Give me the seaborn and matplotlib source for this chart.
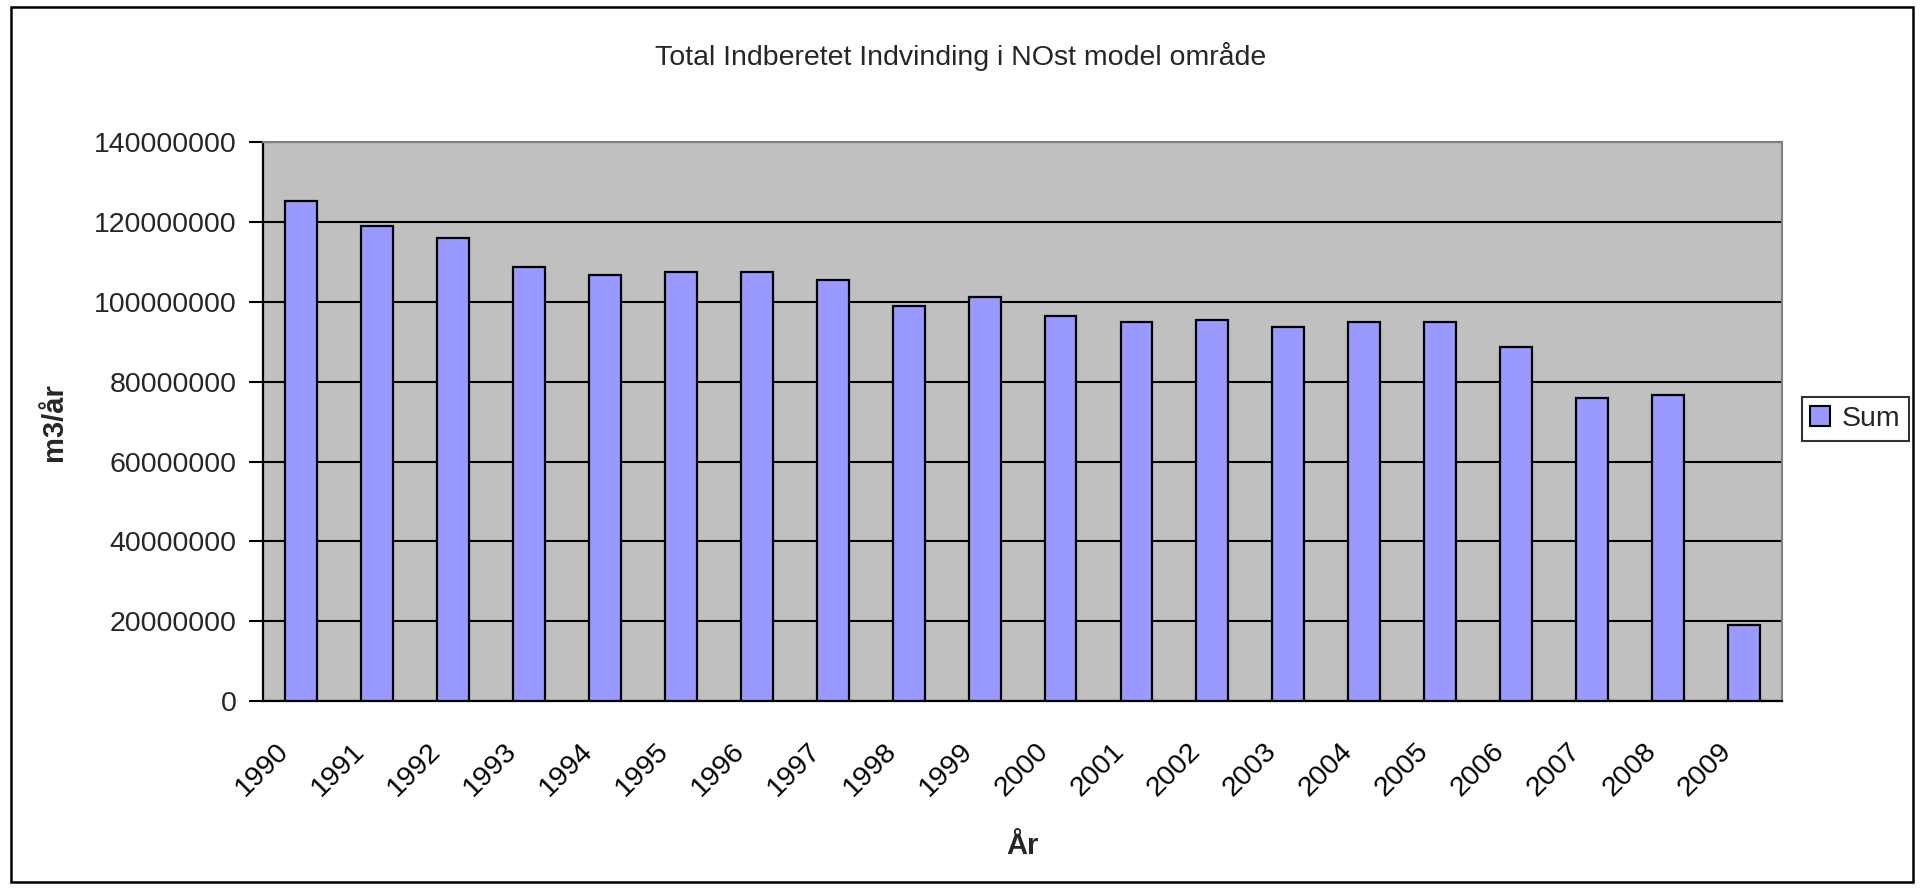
import matplotlib
matplotlib.use("Agg")
import matplotlib.pyplot as plt
from matplotlib.patches import Patch, Rectangle
from matplotlib.ticker import FixedLocator, FuncFormatter
from matplotlib.transforms import ScaledTranslation
import seaborn as sns
import pandas as pd

years = [str(y) for y in range(1990, 2010)]
values = [125.3e6, 119.0e6, 116.1e6, 108.7e6, 106.8e6, 107.5e6, 107.5e6, 105.6e6,
          98.9e6, 101.3e6, 96.4e6, 94.9e6, 95.5e6, 93.6e6, 94.9e6, 94.9e6,
          88.6e6, 76.0e6, 76.6e6, 19.1e6]
y_ticks = [0, 20000000, 40000000, 60000000, 80000000, 100000000, 120000000, 140000000]

title = "Total Indberetet Indvinding i NOst model område"
series_name = "Sum"

sns.set_theme(style="white")
plt.rcParams['font.family'] = ['Liberation Sans', 'DejaVu Sans']

df = pd.DataFrame({"År": years, "m3/år": values})

fig = plt.figure(figsize=(19.21, 8.89), dpi=100)
ax = fig.add_axes([0.137, 0.2115, 0.7906, 0.6285])
ax.set_facecolor("#C0C0C0")

sns.barplot(data=df, x="År", y="m3/år", ax=ax, color="#9999FF", saturation=1,
            width=0.42, edgecolor="black", linewidth=1.6, zorder=3)

ax.set_xlim(-0.5, len(years) - 0.5)
ax.set_ylim(0, 140000000)
ax.yaxis.set_major_locator(FixedLocator(y_ticks))
ax.yaxis.set_major_formatter(FuncFormatter(lambda v, p: f"{int(v)}"))
ax.grid(axis="y", color="black", linewidth=1.5, zorder=1)
ax.set_axisbelow(True)

# x ticks: labels at centers, tick marks at category boundaries
ax.set_xticks(range(len(years)))
ax.set_xticklabels(years, rotation=45, ha="right", va="center", rotation_mode="anchor")
ax.tick_params(axis="x", which="major", length=0, pad=30, labelsize=20.5, colors="black")
offset = ScaledTranslation(-0.16, -0.05, fig.dpi_scale_trans)
for lbl in ax.get_xticklabels():
    lbl.set_transform(lbl.get_transform() + offset)
ax.set_xticks([i - 0.5 for i in range(len(years) + 1)], minor=True)
ax.tick_params(axis="x", which="minor", length=9, width=1.5, color="black", direction="out")
ax.tick_params(axis="y", which="major", length=10, width=1.5, color="black",
               direction="out", labelsize=20.5, pad=9, left=True)

for s in ["left", "bottom"]:
    ax.spines[s].set_color("black")
    ax.spines[s].set_linewidth(1.6)
for s in ["top", "right"]:
    ax.spines[s].set_color("#808080")
    ax.spines[s].set_linewidth(1.5)

ax.set_xlabel("År", fontsize=21, fontweight="bold")
ax.set_ylabel("m3/år", fontsize=21, fontweight="bold", labelpad=19)
ax.xaxis.set_label_coords(0.5, -0.235)

fig.text(0.5, 0.937, title, ha="center", va="center", fontsize=20.5)

handles = [Patch(facecolor="#9999FF", edgecolor="black", linewidth=1.5)]
leg = fig.legend(handles, [series_name], loc="center", bbox_to_anchor=(0.9657, 0.5287),
                 bbox_transform=fig.transFigure, frameon=True, fancybox=False,
                 fontsize=20.5, handlelength=0.7, handleheight=0.7, handletextpad=0.4,
                 borderpad=0.3, borderaxespad=0)
leg.get_frame().set_edgecolor("black")
leg.get_frame().set_linewidth(1.5)

fig.add_artist(Rectangle((0.0055, 0.008), 0.9905, 0.984, transform=fig.transFigure,
                         fill=False, edgecolor="black", linewidth=1.8))

fig.savefig("out.png", dpi=100)
